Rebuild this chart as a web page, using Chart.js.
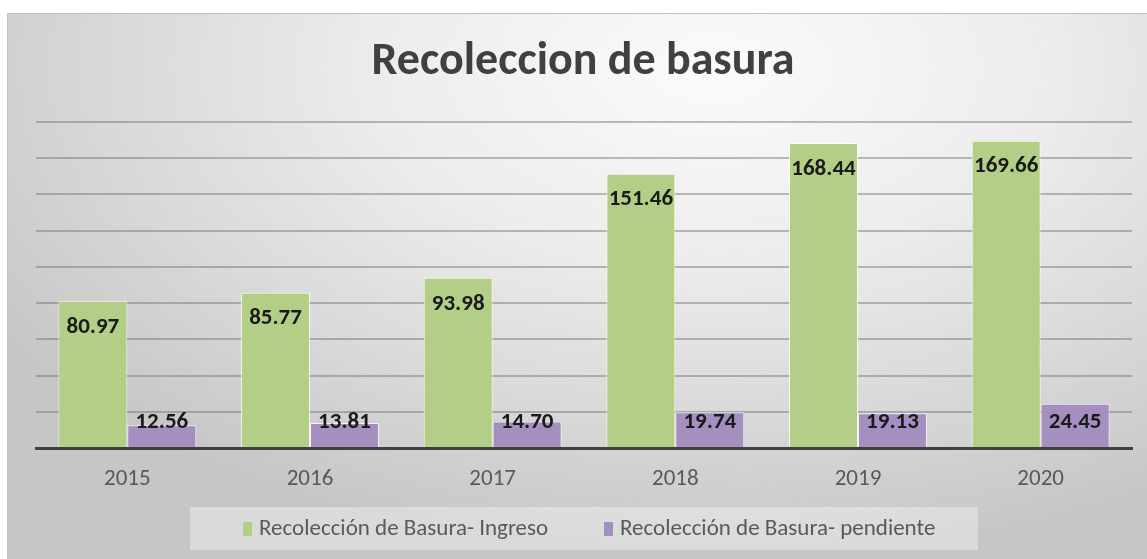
<!DOCTYPE html>
<html>
<head>
<meta charset="utf-8">
<script src="https://cdn.jsdelivr.net/npm/chart.js@4"></script>
<style>
  html, body { margin: 0; padding: 0; background: #fff; }
  #frame {
    position: absolute; left: 7px; top: 13px; width: 1140px; height: 546px;
    background: radial-gradient(ellipse 75% 90% at 62% 10%, #fbfbfb 0%, #ececec 40%, #d6d6d6 75%, #c6c6c6 100%);
    border-top: 1px solid #bdbdbd; border-left: 1px solid #c4c4c4;
    box-sizing: border-box;
  }
  #chart { position: absolute; left: 0; top: 0; }
</style>
</head>
<body>
<div id="frame"></div>
<canvas id="chart" width="1147" height="559"></canvas>
<script>
const years = ['2015', '2016', '2017', '2018', '2019', '2020'];
const ingreso = [80.97, 85.77, 93.98, 151.46, 168.44, 169.66];
const pendiente = [12.56, 13.81, 14.70, 19.74, 19.13, 24.45];
const seriesNames = ['Recolección de Basura- Ingreso', 'Recolección de Basura- pendiente'];
const chartTitle = 'Recoleccion de basura';

const FONT = "Carlito, 'Open Sans', sans-serif";

// title, legend box and value labels drawn by hand, Excel style
const excelBits = {
    id: 'excelBits',
    afterDatasetsDraw(chart) {
        const ctx = chart.ctx;
        ctx.save();
        ctx.fillStyle = '#1a1a1a';
        ctx.font = 'bold 23px ' + FONT;
        ctx.textAlign = 'center';
        ctx.textBaseline = 'middle';
        chart.data.datasets.forEach((ds, i) => {
            chart.getDatasetMeta(i).data.forEach((bar, j) => {
                const y = i === 0 ? bar.y + 26 : bar.base - 25;
                ctx.fillText(ds.data[j].toFixed(2), bar.x, y);
            });
        });
        ctx.restore();
    },
    afterDraw(chart) {
        const ctx = chart.ctx;
        ctx.save();
        // title
        ctx.fillStyle = '#404040';
        ctx.font = 'bold 46px ' + FONT;
        ctx.textAlign = 'center';
        ctx.textBaseline = 'middle';
        ctx.fillText(chartTitle, 583, 62);
        // legend
        ctx.fillStyle = 'rgba(255,255,255,0.35)';
        ctx.fillRect(190, 507, 788, 43);
        ctx.font = '23px ' + FONT;
        ctx.textAlign = 'left';
        const starts = [243, 604];
        chart.data.datasets.forEach((ds, i) => {
            ctx.fillStyle = ds.backgroundColor;
            ctx.fillRect(starts[i], 522, 9, 14);
            ctx.fillStyle = '#595959';
            ctx.fillText(seriesNames[i], starts[i] + 16, 529);
        });
        ctx.restore();
    }
};

new Chart(document.getElementById('chart'), {
    type: 'bar',
    data: {
        labels: years,
        datasets: [{
            label: seriesNames[0],
            data: ingreso,
            backgroundColor: '#b3cf87',
            borderColor: 'rgba(255,255,240,0.8)',
            borderWidth: 1
        }, {
            label: seriesNames[1],
            data: pendiente,
            backgroundColor: '#a48fc0',
            borderColor: 'rgba(255,250,255,0.8)',
            borderWidth: 1
        }]
    },
    options: {
        responsive: false,
        animation: false,
        devicePixelRatio: 1,
        layout: { padding: { top: 122, bottom: 71, left: 36, right: 15 } },
        plugins: {
            legend: { display: false },
            title: { display: false },
            tooltip: { enabled: false }
        },
        datasets: {
            bar: { categoryPercentage: 0.755, barPercentage: 1 }
        },
        scales: {
            x: {
                grid: { display: false },
                border: { display: true, color: '#404040', width: 3 },
                ticks: { color: '#595959', font: { family: FONT, size: 23 }, padding: 9 },
                afterFit(s) { s.height = 40; }
            },
            y: {
                min: 0,
                max: 180,
                ticks: { display: false, stepSize: 20 },
                grid: { color: 'rgba(110,110,110,0.45)', lineWidth: 2, drawTicks: false },
                border: { display: false },
                afterFit(s) { s.width = 0; }
            }
        }
    },
    plugins: [excelBits]
});
</script>
</body>
</html>
